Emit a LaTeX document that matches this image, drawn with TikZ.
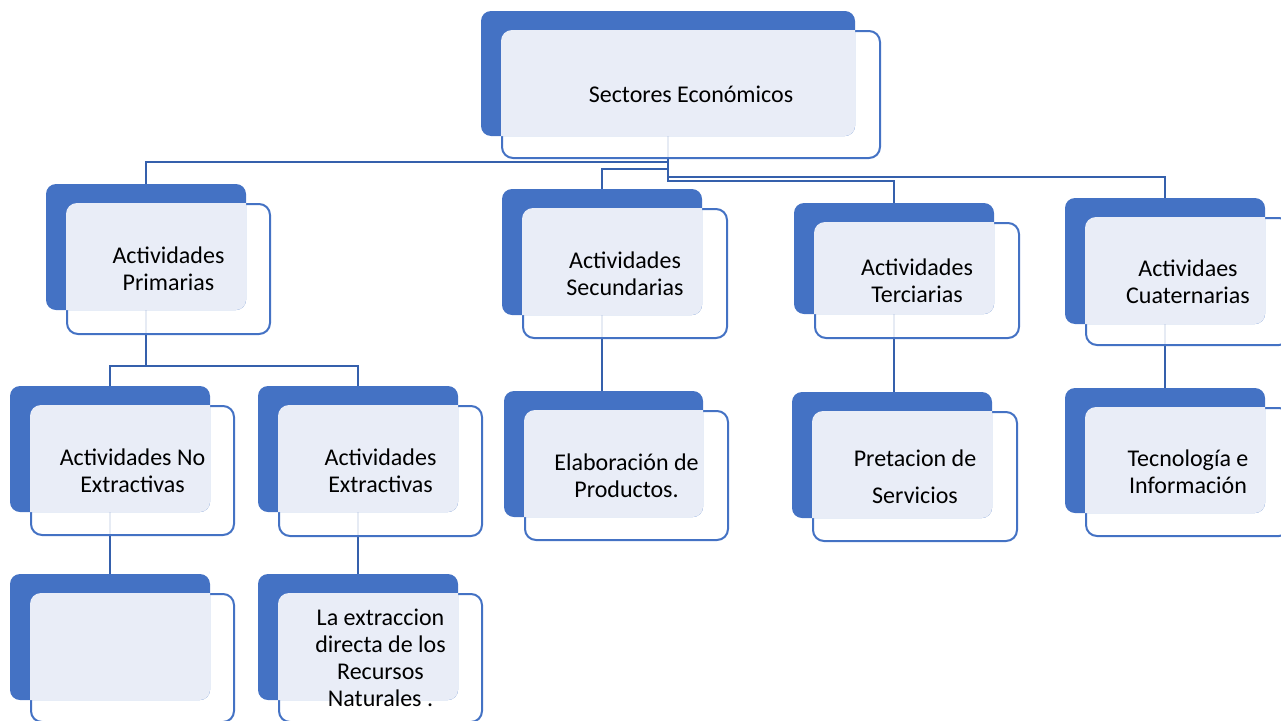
\documentclass[tikz,border=0pt]{standalone}
\usepackage{fontspec}
\setmainfont{Carlito}
\usetikzlibrary{backgrounds}
\definecolor{dblue}{HTML}{4472C4}
\definecolor{lblue}{HTML}{E9EDF7}
\definecolor{cblue}{HTML}{3560AC}
\tikzset{
  darkbox/.style={rectangle, fill=dblue, rounded corners=10pt, inner sep=0pt, outer sep=0pt},
  frontbox/.style={rectangle, draw=dblue, line width=2pt, fill=white, fill opacity=0.88, rounded corners=11pt, inner sep=0pt, outer sep=0pt},
  lightbox/.style={fill=lblue, rounded corners=11pt},
  boxtext/.style={font=\fontsize{24}{27}\selectfont, align=center, text=black, inner sep=0pt},
  conn/.style={draw=cblue, line width=2pt}
}
\newcommand\blk[8]{%
  \node[frontbox, minimum width=#6pt, minimum height=#7pt, anchor=north west] (#1) at (#2pt+21pt,-#3pt-20pt) {};
  \node[darkbox, minimum width=#4pt, minimum height=#5pt, anchor=north west] (#1b) at (#2pt,-#3pt) {};
  \begin{scope}
    \clip[rounded corners=10pt] (#1b.north west) rectangle (#1b.south east);
    \fill[lightbox] ([shift={(-1pt,1pt)}]#1.north west) rectangle ([shift={(1pt,-1pt)}]#1.south east);
  \end{scope}
  \node[boxtext] (#1t) at (#1.center) {#8};
}
\begin{document}
\begin{tikzpicture}
\useasboundingbox (0pt,0pt) rectangle (1281pt,-720pt);
\clip (0pt,0pt) rectangle (1281pt,-720pt);
\blk{top}{481}{11}{374}{125}{378}{127}{Sectores Económicos}
\blk{prim}{46}{184}{200}{126}{203}{130}{Actividades\\Primarias}
\blk{sec}{502}{189}{200}{126}{204}{129}{Actividades\\Secundarias}
\blk{ter}{794}{203}{200}{111}{204}{115}{Actividades\\Terciarias}
\blk{cua}{1065}{198}{200}{126}{204}{127}{Actividaes\\Cuaternarias}
\blk{noext}{10}{386}{200}{126}{203}{129}{Actividades No\\Extractivas}
\blk{ext}{258}{386}{200}{126}{203}{130}{Actividades\\Extractivas}
\blk{empty}{10}{574}{200}{126}{203}{128}{}
\blk{extr}{258}{574}{200}{126}{203}{128}{La extraccion\\directa de los\\Recursos\\Naturales .}
\blk{elab}{504}{391}{199}{126}{203}{129}{Elaboración de\\Productos.}
\blk{pret}{792}{392}{200}{126}{204}{129}{Pretacion de\\[10pt]Servicios}
\blk{tec}{1065}{388}{200}{125}{204}{128}{Tecnología e\\Información}
\begin{scope}[on background layer]
\draw[conn] (topb.south) -- ++(0,-26pt) -| (primb.north);
\draw[conn] (topb.south) -- ++(0,-33pt) -| (secb.north);
\draw[conn] (topb.south) -- ++(0,-45pt) -| (terb.north);
\draw[conn] (topb.south) -- ++(0,-41pt) -| (cuab.north);
\draw[conn] (primb.south) -- ++(0,-56pt) -| (noextb.north);
\draw[conn] (primb.south) -- ++(0,-56pt) -| (extb.north);
\draw[conn] (noextb.south) -- (noextb.south |- emptyb.north);
\draw[conn] (extb.south) -- (extb.south |- extrb.north);
\draw[conn] (secb.south) -- (secb.south |- elabb.north);
\draw[conn] (terb.south) -- (terb.south |- pretb.north);
\draw[conn] (cuab.south) -- (cuab.south |- tecb.north);
\end{scope}
\end{tikzpicture}
\end{document}
